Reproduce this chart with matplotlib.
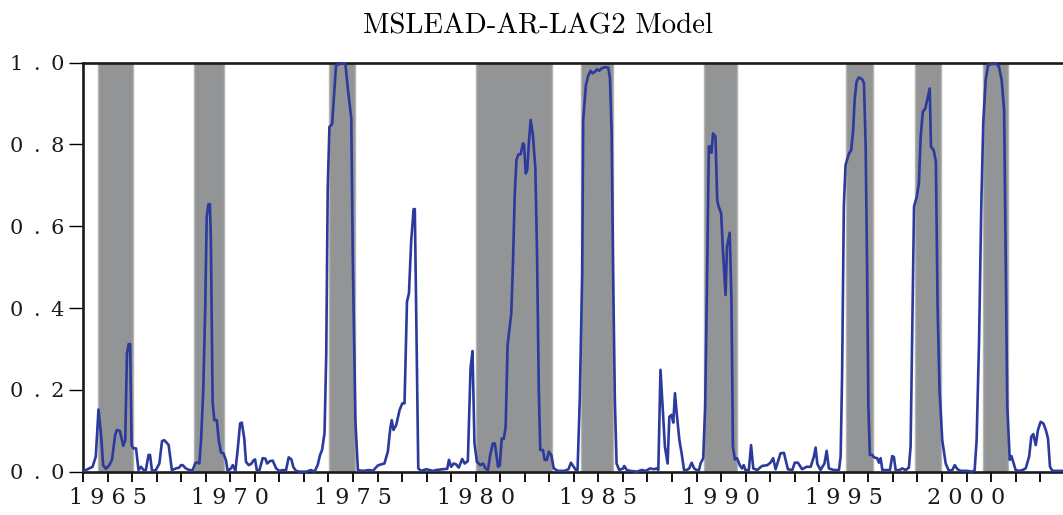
import numpy as np
import matplotlib
matplotlib.use("Agg")
import matplotlib.pyplot as plt

# smoothed recession probabilities (year, prob)
year = [1964.05, 1964.25, 1964.39, 1964.52, 1964.63, 1964.73, 1964.82, 1964.93, 1965.07, 1965.18,
        1965.31, 1965.38, 1965.50, 1965.64, 1965.72, 1965.79, 1965.86, 1965.92, 1965.98, 1966.05,
        1966.16, 1966.26, 1966.36, 1966.47, 1966.56, 1966.67, 1966.73, 1966.81, 1966.97, 1967.11,
        1967.22, 1967.31, 1967.42, 1967.49, 1967.62, 1967.79, 1967.92, 1967.99, 1968.06, 1968.19,
        1968.33, 1968.47, 1968.58, 1968.67, 1968.74, 1968.81, 1968.90, 1968.98, 1969.04, 1969.11,
        1969.17, 1969.21, 1969.28, 1969.35, 1969.45, 1969.53, 1969.62, 1969.72, 1969.83, 1969.89,
        1970.03, 1970.10, 1970.21, 1970.30, 1970.40, 1970.47, 1970.57, 1970.64, 1970.75, 1970.85,
        1970.94, 1971.01, 1971.08, 1971.19, 1971.32, 1971.43, 1971.50, 1971.62, 1971.73, 1971.87,
        1972.00, 1972.14, 1972.27, 1972.38, 1972.49, 1972.57, 1972.68, 1972.82, 1973.09, 1973.29,
        1973.43, 1973.56, 1973.66, 1973.74, 1973.84, 1973.91, 1973.97, 1974.04, 1974.15, 1974.25,
        1974.31, 1974.52, 1974.69, 1974.79, 1974.93, 1974.99, 1975.10, 1975.20, 1975.40, 1975.67,
        1975.81, 1976.01, 1976.15, 1976.28, 1976.42, 1976.52, 1976.58, 1976.65, 1976.76, 1976.90,
        1977.01, 1977.10, 1977.20, 1977.28, 1977.37, 1977.47, 1977.52, 1977.58, 1977.66, 1977.78,
        1977.98, 1978.12, 1978.26, 1978.39, 1978.66, 1978.84, 1978.91, 1979.00, 1979.10, 1979.20,
        1979.31, 1979.45, 1979.55, 1979.68, 1979.79, 1979.87, 1979.95, 1980.05, 1980.19, 1980.30,
        1980.40, 1980.50, 1980.59, 1980.70, 1980.78, 1980.91, 1980.98, 1981.06, 1981.14, 1981.22,
        1981.30, 1981.38, 1981.45, 1981.52, 1981.59, 1981.66, 1981.74, 1981.83, 1981.93, 1981.97,
        1982.04, 1982.10, 1982.17, 1982.24, 1982.33, 1982.43, 1982.50, 1982.57, 1982.63, 1982.74,
        1982.81, 1982.90, 1982.98, 1983.08, 1983.18, 1983.35, 1983.62, 1983.78, 1983.88, 1983.97,
        1984.08, 1984.15, 1984.24, 1984.34, 1984.38, 1984.49, 1984.58, 1984.68, 1984.76, 1984.86,
        1984.95, 1985.03, 1985.13, 1985.26, 1985.40, 1985.47, 1985.54, 1985.60, 1985.67, 1985.74,
        1985.85, 1986.01, 1986.05, 1986.16, 1986.30, 1986.56, 1986.76, 1986.94, 1987.10, 1987.27,
        1987.37, 1987.44, 1987.53, 1987.60, 1987.71, 1987.82, 1987.89, 1987.98, 1988.05, 1988.12,
        1988.19, 1988.30, 1988.39, 1988.49, 1988.60, 1988.70, 1988.80, 1988.90, 1989.00, 1989.10,
        1989.16, 1989.27, 1989.35, 1989.43, 1989.50, 1989.56, 1989.61, 1989.67, 1989.77, 1989.84,
        1989.90, 1990.00, 1990.08, 1990.18, 1990.24, 1990.35, 1990.42, 1990.48, 1990.56, 1990.65,
        1990.76, 1990.85, 1990.92, 1990.99, 1991.13, 1991.22, 1991.31, 1991.47, 1991.67, 1991.88,
        1992.01, 1992.12, 1992.22, 1992.42, 1992.56, 1992.72, 1992.90, 1993.00, 1993.13, 1993.30,
        1993.48, 1993.65, 1993.78, 1993.85, 1993.92, 1994.05, 1994.21, 1994.30, 1994.39, 1994.59,
        1994.80, 1994.87, 1994.93, 1995.00, 1995.07, 1995.21, 1995.30, 1995.38, 1995.44, 1995.52,
        1995.61, 1995.75, 1995.82, 1995.89, 1995.95, 1996.00, 1996.06, 1996.16, 1996.23, 1996.36,
        1996.43, 1996.50, 1996.57, 1996.88, 1996.97, 1997.04, 1997.11, 1997.27, 1997.38, 1997.52,
        1997.65, 1997.72, 1997.79, 1997.86, 1997.97, 1998.06, 1998.13, 1998.22, 1998.32, 1998.41,
        1998.50, 1998.55, 1998.66, 1998.75, 1998.82, 1998.90, 1999.01, 1999.15, 1999.28, 1999.42,
        1999.52, 1999.63, 1999.76, 2000.03, 2000.24, 2000.33, 2000.41, 2000.51, 2000.60, 2000.68,
        2000.78, 2000.88, 2001.05, 2001.23, 2001.32, 2001.43, 2001.53, 2001.60, 2001.66, 2001.76,
        2001.83, 2001.90, 2002.00, 2002.14, 2002.28, 2002.41, 2002.55, 2002.64, 2002.72, 2002.82,
        2002.91, 2003.02, 2003.13, 2003.23, 2003.32, 2003.40, 2003.50, 2003.70, 2003.95]
prob = [0.002, 0.008, 0.012, 0.037, 0.152, 0.094, 0.016, 0.007, 0.016, 0.029,
        0.090, 0.102, 0.100, 0.063, 0.077, 0.289, 0.312, 0.312, 0.065, 0.057,
        0.057, 0.004, 0.012, 0.004, 0.004, 0.041, 0.041, 0.002, 0.004, 0.020,
        0.075, 0.077, 0.070, 0.065, 0.004, 0.008, 0.010, 0.016, 0.016, 0.008,
        0.004, 0.004, 0.022, 0.022, 0.020, 0.077, 0.200, 0.403, 0.623, 0.654,
        0.654, 0.566, 0.171, 0.126, 0.126, 0.077, 0.047, 0.045, 0.027, 0.002,
        0.008, 0.016, 0.002, 0.053, 0.118, 0.120, 0.081, 0.024, 0.016, 0.019,
        0.027, 0.030, 0.004, 0.004, 0.033, 0.032, 0.020, 0.026, 0.027, 0.008,
        0.002, 0.004, 0.003, 0.035, 0.030, 0.011, 0.002, 0.000, 0.000, 0.004,
        0.000, 0.016, 0.041, 0.053, 0.094, 0.285, 0.690, 0.843, 0.850, 0.940,
        0.994, 0.998, 0.998, 0.937, 0.864, 0.530, 0.122, 0.004, 0.002, 0.004,
        0.002, 0.015, 0.018, 0.020, 0.049, 0.106, 0.126, 0.102, 0.114, 0.151,
        0.167, 0.167, 0.416, 0.436, 0.562, 0.642, 0.642, 0.367, 0.008, 0.002,
        0.006, 0.004, 0.002, 0.004, 0.006, 0.007, 0.029, 0.012, 0.020, 0.018,
        0.010, 0.031, 0.020, 0.026, 0.253, 0.295, 0.069, 0.024, 0.016, 0.020,
        0.008, 0.004, 0.041, 0.069, 0.069, 0.012, 0.015, 0.081, 0.080, 0.108,
        0.310, 0.350, 0.387, 0.513, 0.676, 0.762, 0.776, 0.776, 0.803, 0.799,
        0.729, 0.737, 0.807, 0.860, 0.823, 0.742, 0.530, 0.204, 0.053, 0.053,
        0.029, 0.029, 0.049, 0.041, 0.008, 0.002, 0.002, 0.006, 0.022, 0.014,
        0.004, 0.004, 0.175, 0.485, 0.860, 0.945, 0.967, 0.980, 0.974, 0.978,
        0.984, 0.980, 0.986, 0.989, 0.988, 0.963, 0.827, 0.485, 0.175, 0.020,
        0.004, 0.008, 0.014, 0.004, 0.002, 0.000, 0.004, 0.002, 0.008, 0.006,
        0.008, 0.004, 0.249, 0.175, 0.061, 0.020, 0.134, 0.139, 0.120, 0.192,
        0.143, 0.077, 0.045, 0.004, 0.004, 0.008, 0.022, 0.008, 0.004, 0.004,
        0.020, 0.033, 0.159, 0.485, 0.795, 0.795, 0.780, 0.827, 0.819, 0.664,
        0.648, 0.632, 0.534, 0.432, 0.550, 0.584, 0.420, 0.061, 0.030, 0.033,
        0.016, 0.008, 0.016, 0.004, 0.004, 0.065, 0.008, 0.004, 0.014, 0.016,
        0.022, 0.033, 0.006, 0.045, 0.046, 0.006, 0.004, 0.022, 0.022, 0.006,
        0.012, 0.012, 0.037, 0.059, 0.019, 0.004, 0.020, 0.051, 0.008, 0.004,
        0.004, 0.037, 0.240, 0.648, 0.750, 0.778, 0.786, 0.835, 0.909, 0.954,
        0.964, 0.959, 0.950, 0.795, 0.485, 0.159, 0.041, 0.041, 0.035, 0.033,
        0.022, 0.033, 0.004, 0.004, 0.038, 0.036, 0.004, 0.004, 0.008, 0.004,
        0.010, 0.061, 0.363, 0.648, 0.672, 0.705, 0.819, 0.880, 0.888, 0.913,
        0.937, 0.795, 0.786, 0.758, 0.403, 0.200, 0.077, 0.020, 0.002, 0.004,
        0.016, 0.006, 0.002, 0.002, 0.000, 0.004, 0.077, 0.320, 0.648, 0.852,
        0.958, 0.994, 0.997, 0.997, 0.990, 0.958, 0.884, 0.485, 0.159, 0.029,
        0.038, 0.024, 0.004, 0.002, 0.004, 0.008, 0.037, 0.086, 0.092, 0.065,
        0.102, 0.122, 0.118, 0.102, 0.081, 0.012, 0.002, 0.002, 0.002]

# shaded periods
rec_start = [1964.62, 1968.54, 1974.04, 1980.00, 1984.31, 1989.29, 1995.07, 1997.90, 2000.66]
rec_end = [1966.02, 1969.76, 1975.09, 1983.11, 1985.60, 1990.63, 1996.20, 1998.96, 2001.70]

year_labels = [1965, 1970, 1975, 1980, 1985, 1990, 1995, 2000]
y_ticks = [0.0, 0.2, 0.4, 0.6, 0.8, 1.0]

fig = plt.figure(figsize=(10.63, 5.15), dpi=100)
ax = fig.add_axes([0.0781, 0.0841, 0.9219, 0.7942])

for a, b in zip(rec_start, rec_end):
    ax.axvspan(a, b, facecolor="#939495", edgecolor="#b4b4b4", lw=1.0, zorder=1)

ax.plot(year, prob, color="#2b3a9c", lw=1.9, zorder=3, clip_on=False)

ax.set_xlim(1964.0, 2003.93)
ax.set_ylim(0, 1.0)

# wide letter spacing like the original
ax.set_xticks(year_labels)
ax.set_xticklabels([" ".join(str(y)) for y in year_labels],
                   family="DejaVu Serif", fontsize=16, color="#1a1a1a")
ax.set_xticks(np.arange(1964, 2004), minor=True)
ax.set_yticks(y_ticks)
ax.set_yticklabels(["\u2002".join(f"{v:.1f}") for v in y_ticks],
                   family="DejaVu Serif", fontsize=15, color="#1a1a1a")

ax.tick_params(axis="x", which="both", direction="out", length=7, width=1.3, pad=4)
ax.tick_params(axis="y", direction="out", length=10, width=1.0, pad=3.5)

for s in ["left", "bottom", "top"]:
    ax.spines[s].set_linewidth(1.9)
    ax.spines[s].set_color("#1a1a1a")
ax.spines["right"].set_visible(False)

fig.text(0.5057, 0.9353, "MSLEAD-AR-LAG2 Model", family="cmr10", fontsize=20.8,
         ha="center", va="baseline")

fig.savefig("out.png", dpi=100)
